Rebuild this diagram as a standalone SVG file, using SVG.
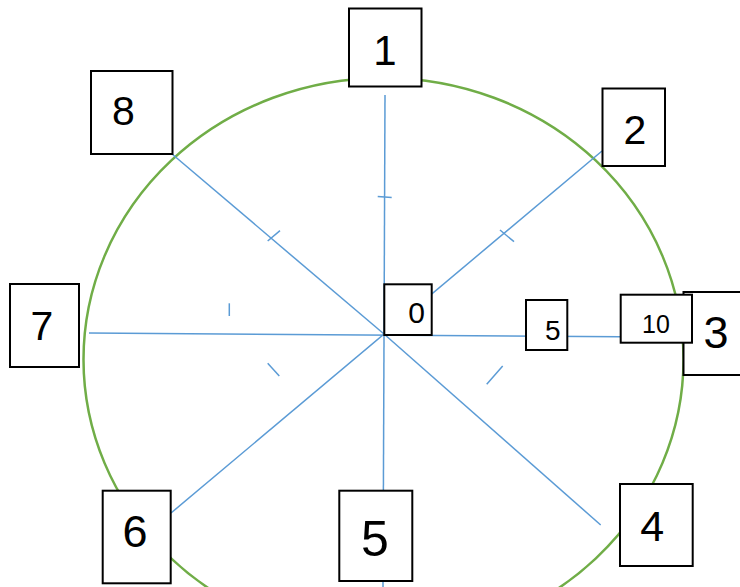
<svg xmlns="http://www.w3.org/2000/svg" width="740" height="587" viewBox="0 0 740 587">
<style>
.box{fill:#fff;stroke:#000;stroke-width:2}
.ln{stroke:#5B9BD5;stroke-width:1.5;fill:none}
.t{font-family:"Liberation Sans",Arial,sans-serif;fill:#000;text-anchor:middle}
</style>
<rect width="740" height="587" fill="#fff"/>
<ellipse cx="383.5" cy="359.5" rx="300" ry="281.5" fill="none" stroke="#70AD47" stroke-width="2.5"/>
<g id="connectors">
<line class="ln" x1="385" y1="95" x2="383" y2="587"/>
<line class="ln" x1="89" y1="333" x2="620" y2="336.7"/>
<line class="ln" x1="172" y1="154" x2="384.3" y2="334.3"/>
<line class="ln" x1="384.3" y1="334.3" x2="600.7" y2="525"/>
<line class="ln" x1="171" y1="513" x2="602" y2="151"/>
<line class="ln" x1="377.7" y1="196.5" x2="391.7" y2="197.5"/>
<line class="ln" x1="267.7" y1="241" x2="280" y2="230.7"/>
<line class="ln" x1="500" y1="230" x2="514" y2="241.7"/>
<line class="ln" x1="229.3" y1="303.3" x2="229.3" y2="316"/>
<line class="ln" x1="267.7" y1="363.3" x2="279.3" y2="376"/>
<line class="ln" x1="502.7" y1="366" x2="486.7" y2="384.3"/>
</g>
<g id="node1"><rect class="box" x="349" y="8.5" width="72.5" height="78"/><text class="t" x="385" y="65" font-size="42">1</text></g>
<g id="node8"><rect class="box" x="91" y="71" width="81.5" height="83"/><text class="t" x="123.5" y="125" font-size="41">8</text></g>
<g id="node2"><rect class="box" x="602.5" y="88.5" width="62.5" height="77.5"/><text class="t" x="635" y="144" font-size="41">2</text></g>
<g id="node7"><rect class="box" x="10" y="284" width="69" height="83"/><text class="t" x="42" y="340" font-size="41">7</text></g>
<g id="node3"><rect class="box" x="683.5" y="292" width="60" height="83"/><text class="t" x="716" y="348" font-size="45">3</text></g>
<g id="node10"><rect class="box" x="620.7" y="294.7" width="71.3" height="48"/><text class="t" x="656" y="333" font-size="25">10</text></g>
<g id="node0"><rect class="box" x="384.3" y="284.3" width="47.4" height="50.7"/><text class="t" x="416.7" y="323.3" font-size="30">0</text></g>
<g id="node5s"><rect class="box" x="526" y="300" width="41.3" height="50"/><text class="t" x="552.7" y="340" font-size="28">5</text></g>
<g id="node6"><rect class="box" x="102.7" y="490.7" width="68" height="92.6"/><text class="t" x="135" y="547.3" font-size="45">6</text></g>
<g id="node5"><rect class="box" x="339.3" y="490.7" width="73" height="90.3"/><text class="t" x="375" y="556" font-size="50">5</text></g>
<g id="node4"><rect class="box" x="620" y="484" width="72.7" height="82"/><text class="t" x="652.3" y="540.7" font-size="43">4</text></g>
</svg>
